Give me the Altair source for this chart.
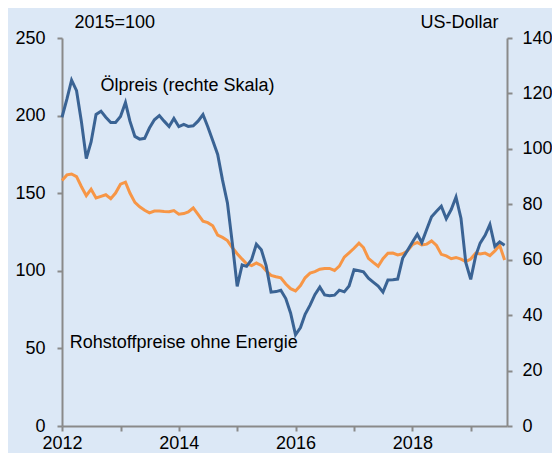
import altair as alt
import pandas as pd

# Monthly dates Jan 2012 .. Aug 2019
months = pd.date_range("2012-01-01", "2019-08-01", freq="MS").strftime("%Y/%m/%d").tolist()

# Rohstoffpreise ohne Energie (2015=100, left scale)
commodities = [
    158.2, 161.8, 162.4, 160.7, 154.3, 148.4, 152.6, 146.9, 148.0, 149.0, 146.5, 150.1,
    155.8, 157.1, 150.1, 144.1, 141.2, 139.0, 137.3, 138.5, 138.5, 138.2, 138.0, 138.8,
    136.5, 136.9, 138.0, 140.5, 136.3, 132.0, 131.0, 129.0, 123.0, 121.5, 119.5, 115.0,
    111.0, 107.5, 104.5, 103.3, 105.0, 103.5, 100.0, 97.0, 96.2, 95.5, 91.5, 88.5,
    87.0, 90.5, 95.5, 98.5, 99.5, 101.0, 101.5, 101.5, 100.2, 103.0, 108.8, 111.6,
    114.5, 117.8, 115.0, 108.0, 105.4, 102.9, 107.8, 111.3, 111.4, 110.2, 111.0, 112.8,
    116.8, 118.3, 116.6, 117.2, 119.2, 116.3, 110.6, 109.6, 107.8, 108.6, 107.5, 105.9,
    107.6, 111.4, 110.8, 111.4, 109.8, 112.8, 116.5, 107.0,
]

# Ölpreis (US-Dollar, right scale)
oil = [
    111.4, 118.0, 124.8, 121.0, 110.0, 96.5, 102.5, 112.4, 113.6, 111.4, 109.5, 109.5,
    111.7, 116.7, 110.0, 104.5, 103.5, 103.8, 107.5, 110.5, 112.0, 110.0, 108.1, 111.0,
    108.0, 108.8, 108.1, 108.3, 110.0, 112.4, 108.0, 103.0, 98.0, 88.8, 80.5, 66.2,
    50.4, 58.1, 57.6, 60.0, 65.6, 63.6, 57.9, 48.3, 48.5, 49.0, 46.0, 40.8,
    32.9, 35.5, 40.3, 43.6, 47.4, 50.1, 47.3, 47.0, 47.2, 49.0, 48.4, 50.5,
    56.4, 56.0, 55.6, 53.3, 51.9, 50.5, 48.3, 52.7, 52.8, 53.0, 60.5, 63.3,
    66.3, 69.2, 66.2, 71.0, 75.5, 77.5, 79.3, 74.8, 78.1, 82.6, 75.0, 59.0,
    52.9, 61.4, 66.0, 68.8, 72.7, 64.8, 66.4, 65.2,
]

label_texts = ["Ölpreis (rechte Skala)", "Rohstoffpreise ohne Energie"]
label_dates = ["2012/08/29", "2012/02/19"]
label_values = [215.6, 50.4]

left_ticks = [0, 50, 100, 150, 200, 250]
right_ticks = [0, 20, 40, 60, 80, 100, 120, 140]
year_ticks = list(range(2012, 2020))

FONT = "Liberation Sans"
AXIS_GRAY = "#8a8a8a"

df = pd.DataFrame({"date": months, "commodities": commodities, "oil": oil})
labels_df = pd.DataFrame({"date": label_dates, "value": label_values, "text": label_texts})

x_enc = alt.X(
    "date:T",
    title=None,
    scale=alt.Scale(
        domain=[alt.DateTime(year=2012, month=1, date=1), alt.DateTime(year=2019, month=8, date=16)],
        nice=False,
    ),
    axis=alt.Axis(
        values=[alt.DateTime(year=y, month=1, date=1) for y in year_ticks],
        labelExpr="year(datum.value) % 2 == 0 ? timeFormat(datum.value, '%Y') : ''",
        grid=False,
        domainColor=AXIS_GRAY,
        domainWidth=2,
        tickColor=AXIS_GRAY,
        tickWidth=2,
        tickSize=5,
        labelPadding=3,
        labelFontSize=18,
        labelFont=FONT,
        labelColor="black",
        labelFlush=False,
        labelOverlap=False,
    ),
)

base = alt.Chart(df)

orange = base.mark_line(color="#f79646", strokeWidth=3).encode(
    x=x_enc,
    y=alt.Y(
        "commodities:Q",
        scale=alt.Scale(domain=[0, 250], nice=False, zero=True),
        axis=alt.Axis(
            values=left_ticks,
            orient="left",
            grid=False,
            title="2015=100",
            titleAngle=0,
            titleAlign="left",
            titleBaseline="alphabetic",
            titleX=12,
            titleY=-11,
            titleFontSize=18,
            titleFontWeight="normal",
            titleFont=FONT,
            titleColor="black",
            domainColor=AXIS_GRAY,
            domainWidth=2,
            tickColor=AXIS_GRAY,
            tickWidth=2,
            tickSize=5,
            labelPadding=12,
            labelFontSize=18,
            labelFont=FONT,
            labelColor="black",
            labelFlush=False,
        ),
    ),
)

blue = base.mark_line(color="#3a6394", strokeWidth=3).encode(
    x=x_enc,
    y=alt.Y(
        "oil:Q",
        scale=alt.Scale(domain=[0, 140], nice=False, zero=True),
        axis=alt.Axis(
            values=right_ticks,
            orient="right",
            grid=False,
            title="US-Dollar",
            titleAngle=0,
            titleAlign="right",
            titleBaseline="alphabetic",
            titleX=-9,
            titleY=-11,
            titleFontSize=18,
            titleFontWeight="normal",
            titleFont=FONT,
            titleColor="black",
            domainColor=AXIS_GRAY,
            domainWidth=2,
            tickColor=AXIS_GRAY,
            tickWidth=2,
            tickSize=5,
            labelPadding=10,
            labelFontSize=18,
            labelFont=FONT,
            labelColor="black",
            labelFlush=False,
        ),
    ),
)

texts = alt.Chart(labels_df).mark_text(
    align="left", baseline="alphabetic", fontSize=18, font=FONT, color="black"
).encode(
    x=x_enc,
    y=alt.Y("value:Q", scale=alt.Scale(domain=[0, 250], nice=False), axis=None),
    text="text:N",
)

chart = (
    alt.layer(orange, blue, texts)
    .resolve_scale(y="independent")
    .properties(
        width=445,
        height=388,
        background="#dce8f6",
        padding={"left": 54, "top": 30, "right": 45, "bottom": 27},
        autosize=alt.AutoSizeParams(type="none"),
    )
    .configure_view(stroke=None)
)

chart.save("out.html", embed_options={"renderer": "svg", "actions": False})
